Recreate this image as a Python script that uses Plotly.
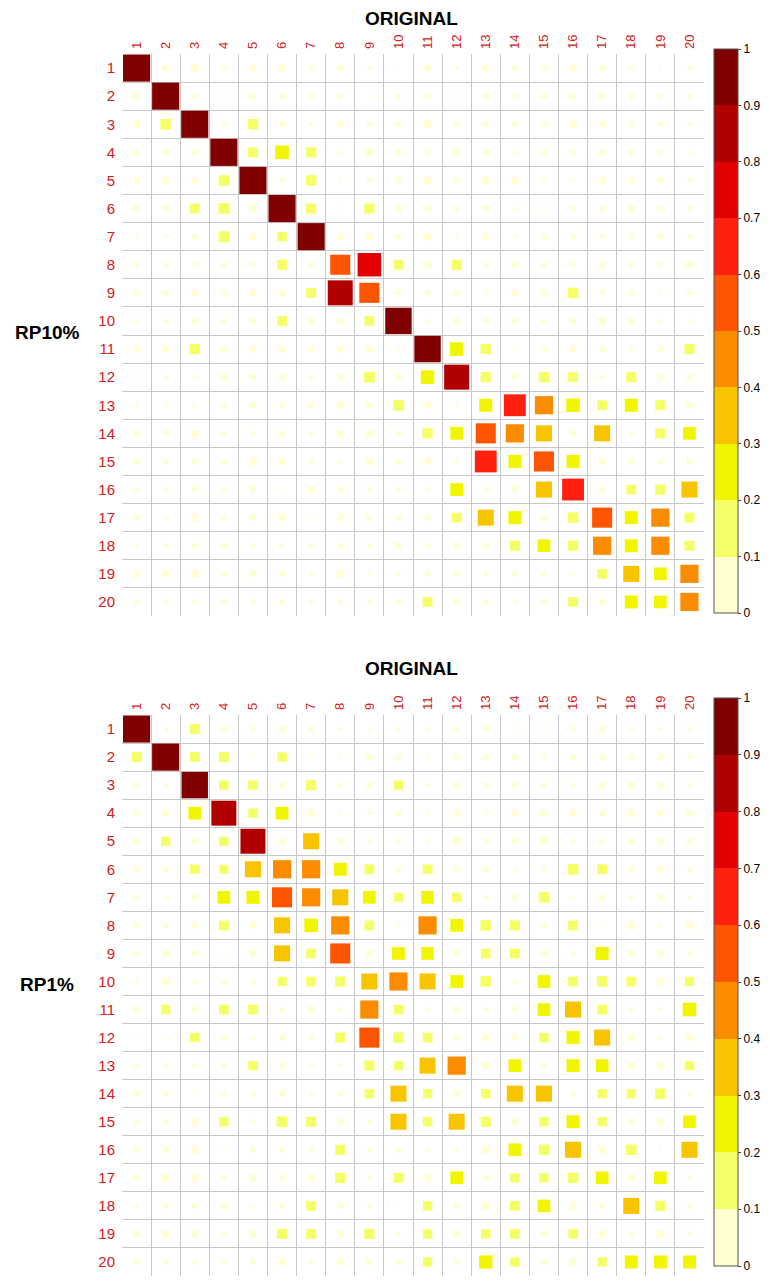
import plotly.graph_objects as go
import numpy as np

labels = [str(i) for i in range(1, 21)]

rp10 = [
 [1,.05,.08,.04,.06,.06,.03,.04,.02,.01,.06,.02,.05,.04,.05,.06,.04,.03,.01,.03],
 [.06,1,.04,.01,.05,.05,.02,.04,.01,.03,.05,.01,.05,.04,.04,.05,.06,.03,.03,.03],
 [.08,.15,1,.04,.15,.05,.02,.06,.04,.03,.07,.03,.04,.04,.05,.07,.05,.04,.03,.02],
 [.04,.06,.05,1,.14,.25,.14,.02,.07,.04,.04,.06,.05,.02,.04,.04,.05,.04,.03,.01],
 [.06,.06,.05,.15,1,.03,.15,.01,.04,.06,.07,.04,.07,.06,.02,.01,.05,.05,.04,.04],
 [.06,.06,.13,.16,.07,1,.14,.01,.14,.07,.06,.03,.06,.02,.02,.04,.05,.06,.04,.04],
 [.02,.02,.04,.16,.06,.12,1,.06,.07,.04,.07,.02,.05,.02,.05,.03,.03,.04,.04,.04],
 [.03,.03,.03,.04,.03,.14,.04,.55,.75,.13,.06,.14,.03,.05,.04,.03,.04,.04,.03,.07],
 [.03,.04,.05,.05,.05,.05,.13,.85,.55,.03,.04,.04,.02,.05,.07,.15,.03,.04,.02,.04],
 [.02,.03,.04,.04,.04,.13,.05,.06,.13,.95,.02,.06,.05,.05,.03,.06,.07,.05,.02,.01],
 [.06,.06,.15,.06,.06,.06,.05,.06,.06,.02,.95,.25,.15,.01,.04,.05,.04,.02,.04,.14],
 [.01,.02,.02,.06,.06,.06,.03,.04,.16,.06,.25,.85,.14,.05,.15,.13,.03,.14,.05,.05],
 [.02,.02,.02,.04,.04,.03,.05,.07,.05,.16,.06,.02,.23,.65,.45,.25,.13,.23,.14,.05],
 [.05,.05,.08,.04,.03,.04,.02,.07,.07,.04,.14,.22,.55,.45,.35,.04,.35,.02,.14,.22],
 [.04,.04,.04,.04,.07,.07,.04,.02,.07,.04,.06,.02,.65,.23,.55,.23,.06,.05,.03,.05],
 [.03,.03,.04,.02,.05,.01,.07,.04,.04,.03,.02,.22,.04,.05,.35,.65,.04,.13,.15,.35],
 [.05,.02,.07,.03,.05,.07,.01,.06,.05,.05,.05,.13,.35,.23,.06,.15,.55,.23,.45,.14],
 [.02,.02,.04,.05,.03,.02,.03,.04,.04,.07,.04,.05,.05,.14,.22,.14,.45,.23,.45,.14],
 [.07,.06,.08,.04,.05,.04,.02,.07,.01,.02,.04,.04,.02,.04,.03,.01,.13,.35,.22,.45],
 [.03,.03,.03,.04,.03,.03,.02,.03,.04,.04,.13,.05,.03,.02,.04,.13,.05,.23,.22,.45],
]

rp1 = [
 [1,.02,.13,.05,.03,.06,.04,.02,.01,.02,.02,.03,.05,.01,.01,.03,.05,.01,.02,.03],
 [.14,1,.13,.13,.01,.12,.01,.02,.05,.05,.02,.03,.04,.04,.03,.04,.04,.03,.04,.03],
 [.04,.02,.95,.12,.12,.05,.14,.03,.05,.12,.03,.05,.04,.04,.04,.03,.04,.06,.06,.03],
 [.03,.06,.22,.85,.12,.22,.07,.02,.02,.04,.02,.07,.02,.06,.08,.06,.04,.07,.06,.05],
 [.05,.12,.05,.12,.85,.04,.35,.04,.03,.03,.01,.08,.04,.04,.08,.03,.03,.05,.06,.05],
 [.05,.03,.12,.11,.35,.45,.45,.23,.13,.03,.13,.03,.04,.02,.03,.15,.13,.05,.07,.03],
 [.03,.01,.04,.22,.23,.55,.45,.35,.22,.12,.22,.12,.02,.05,.15,.01,.04,.03,.04,.03],
 [.03,.04,.05,.13,.05,.35,.25,.45,.13,.02,.45,.22,.15,.14,.04,.13,.01,.07,.02,.07],
 [.03,.06,.04,.01,.06,.35,.13,.55,.06,.22,.22,.06,.13,.13,.05,.03,.23,.06,.06,.04],
 [.02,.07,.03,.05,.03,.12,.13,.14,.35,.45,.35,.22,.15,.03,.22,.13,.15,.13,.07,.12],
 [.06,.12,.04,.13,.13,.03,.06,.03,.45,.13,.02,.04,.02,.04,.22,.35,.13,.03,.02,.25],
 [.01,.01,.12,.06,.02,.05,.03,.14,.55,.15,.13,.04,.06,.05,.12,.23,.35,.06,.02,.06],
 [.03,.03,.03,.03,.12,.05,.01,.02,.14,.12,.35,.45,.07,.22,.04,.23,.22,.07,.06,.12],
 [.06,.03,.01,.03,.03,.05,.02,.03,.12,.35,.12,.06,.12,.35,.35,.03,.12,.12,.15,.03],
 [.03,.04,.07,.12,.02,.16,.14,.05,.03,.35,.12,.35,.14,.06,.12,.23,.12,.05,.06,.22],
 [.03,.05,.07,.01,.04,.03,.04,.14,.03,.04,.02,.02,.07,.22,.15,.35,.07,.15,.01,.35],
 [.05,.07,.07,.03,.06,.05,.06,.15,.03,.14,.06,.22,.05,.12,.12,.15,.22,.06,.22,.03],
 [.02,.03,.04,.06,.01,.04,.13,.04,.02,.01,.12,.04,.07,.13,.22,.06,.03,.35,.14,.04],
 [.07,.06,.06,.02,.06,.14,.13,.06,.14,.02,.12,.06,.12,.13,.06,.12,.06,.04,.07,.03],
 [.04,.04,.03,.02,.04,.06,.02,.05,.05,.04,.12,.03,.24,.12,.05,.06,.12,.23,.23,.23],
]

bin_colors = ["#FFFFD2", "#F5FF66", "#F2F500", "#F8C400", "#FB8C00",
              "#FF5500", "#FF2010", "#E30000", "#B00000", "#800000"]
colorscale = []
for i, c in enumerate(bin_colors):
    colorscale.append([i / 10, c])
    colorscale.append([(i + 1) / 10, c])

W, H = 770, 1282
OX, OY = 7, 7   # page offset compensation
fig = go.Figure()

panels = [
    (rp10, "x", "y", 53, 615, "RP10%", 48, 612, 10, 325),
    (rp1, "x2", "y2", 714, 1275, "RP1%", 697, 1265, 660, 977),
]
L, R = 121 - OX, 703 - OX
cell_w = (R - L) / 20

for idx, (mat, xa, ya, top, bot, name, cbt, cbb, ty, ly) in enumerate(panels):
    top -= OY; bot -= OY; cbt -= OY; cbb -= OY
    m = np.array(mat, dtype=float)
    xs, ys, vs = [], [], []
    for r in range(20):
        for c in range(20):
            xs.append(c + 1); ys.append(r + 1); vs.append(m[r, c])
    vs = np.array(vs)
    sizes = np.sqrt(np.abs(vs)) * (cell_w - 2)
    fig.add_trace(go.Scatter(
        x=xs, y=ys, mode="markers",
        xaxis=xa, yaxis=ya, showlegend=False, opacity=1,
        marker=dict(symbol="square", size=sizes, color=vs, cmin=0, cmax=1, opacity=1,
                    colorscale=colorscale, line=dict(width=0),
                    colorbar=dict(x=(713 - OX) / W, xanchor="left", thickness=24, xpad=0, ypad=0,
                                  y=1 - cbt / H, yanchor="top",
                                  len=(cbb - cbt) / H, lenmode="fraction",
                                  tickvals=[i / 10 for i in range(11)],
                                  ticktext=["0", "0.1", "0.2", "0.3", "0.4", "0.5", "0.6", "0.7", "0.8", "0.9", "1"],
                                  ticks="outside", ticklen=3, outlinewidth=1, outlinecolor="#555",
                                  tickfont=dict(size=12, color="#000", family="Liberation Sans"))),
    ))
    axsuffix = "" if idx == 0 else "2"
    fig.update_layout(**{
        "xaxis" + axsuffix: dict(domain=[L / W, R / W], range=[0.5, 20.5], side="top",
                                 anchor="y" + axsuffix, tickvals=list(range(1, 21)), ticktext=labels,
                                 tickangle=-90, showgrid=False, zeroline=False, ticks="",
                                 automargin=False, ticklabelstandoff=4,
                                 tickfont=dict(color="#D02020", size=13, family="Liberation Sans"),
                                 showline=False,
                                 minor=dict(tick0=0.5, dtick=1, showgrid=True, gridcolor="#C8C8C8", gridwidth=1.3)),
        "yaxis" + axsuffix: dict(domain=[1 - bot / H, 1 - top / H], range=[20.5, 0.5],
                                 anchor="x" + axsuffix, tickvals=list(range(1, 21)), ticktext=labels,
                                 showgrid=False, zeroline=False, ticks="", showline=False,
                                 automargin=False, ticklabelstandoff=6,
                                 tickfont=dict(color="#D02020", size=15, family="Liberation Sans"),
                                 minor=dict(tick0=0.5, dtick=1, showgrid=True, gridcolor="#C8C8C8", gridwidth=1.3)),
    })
    fig.add_annotation(text="<b>ORIGINAL</b>", x=(411 - OX) / W, y=1 - ty / H, xref="paper", yref="paper",
                       xanchor="center", yanchor="middle", showarrow=False,
                       font=dict(size=19, family="Liberation Sans", color="#000"))
    fig.add_annotation(text="<b>" + name + "</b>", x=(46 - OX) / W, y=1 - ly / H, xref="paper", yref="paper",
                       xanchor="center", yanchor="middle", showarrow=False,
                       font=dict(size=19, family="Liberation Sans", color="#000"))

fig.update_layout(width=W, height=H, margin=dict(l=0, r=0, t=0, b=0, autoexpand=False),
                  plot_bgcolor="white", paper_bgcolor="white")
fig.write_html("out.html")
